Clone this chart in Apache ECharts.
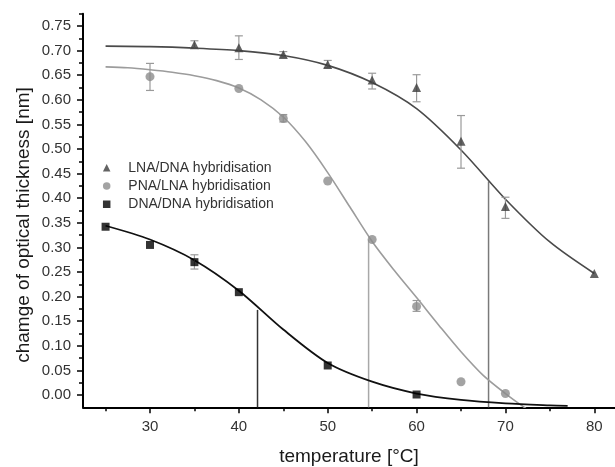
<!DOCTYPE html>
<html>
<head>
<meta charset="utf-8">
<script src="https://cdn.jsdelivr.net/npm/echarts@6/dist/echarts.min.js"></script>
<style>
  html, body { margin: 0; padding: 0; background: #fff; }
  #chart { width: 615px; height: 467px; }
</style>
</head>
<body>
<div id="chart"></div>
<script>
// measured points [temperature, thickness]
const lnaPoints = [[35, 0.712], [40, 0.706], [45, 0.692], [50, 0.672], [55, 0.640], [60, 0.625], [65, 0.516], [70, 0.383], [80, 0.247]]
const pnaPoints = [[30, 0.647], [40, 0.623], [45, 0.562], [50, 0.435], [55, 0.316], [60, 0.180], [65, 0.027], [70, 0.003]]
const dnaPoints = [[25, 0.342], [30, 0.305], [35, 0.270], [40, 0.209], [50, 0.060], [60, 0.001]]

// error bars [temperature, low, high]
const lnaErrors = [[35, 0.705, 0.720], [40, 0.682, 0.730], [45, 0.687, 0.698], [50, 0.665, 0.680], [55, 0.622, 0.654], [60, 0.596, 0.651], [65, 0.461, 0.568], [70, 0.359, 0.402]]
const pnaErrors = [[30, 0.619, 0.674], [45, 0.555, 0.570], [60, 0.170, 0.192]]
const dnaErrors = [[35, 0.256, 0.285]]

// fitted curves
const lnaFit = [[25, 0.709], [30, 0.708], [35, 0.705], [40, 0.700], [45, 0.690], [50, 0.670], [55, 0.635], [60, 0.582], [65, 0.498], [70, 0.398], [75, 0.311], [80, 0.247]]
const pnaFit = [[25, 0.667], [27.5, 0.665], [30, 0.661], [32.5, 0.656], [35, 0.649], [37.5, 0.639], [40, 0.624], [42.5, 0.600], [45, 0.565], [47.5, 0.515], [50, 0.452], [52.5, 0.382], [55, 0.312], [57.5, 0.253], [60, 0.198], [62.5, 0.142], [65, 0.088], [67.5, 0.040], [70, 0.003], [72.5, -0.030]]
const dnaFit = [[25, 0.344], [30, 0.316], [35, 0.274], [40, 0.212], [45, 0.133], [50, 0.065], [55, 0.027], [60, 0.003], [65, -0.010], [70, -0.017], [75, -0.021], [77, -0.022]]

// melting temperatures [Tm, curve height]
const lnaTm = [68.1, 0.434]
const pnaTm = [54.6, 0.316]
const dnaTm = [42.1, 0.173]

// axis ranges and ticks
const xMin = 22.46
const xMax = 82.33
const yMin = -0.025
const yMax = 0.775
const xMajorTicks = [30, 40, 50, 60, 70, 80]
const xFirstTicks = [25, 30]
const yMajorTicks = [0.00, 0.05, 0.10, 0.15, 0.20, 0.25, 0.30, 0.35, 0.40, 0.45, 0.50, 0.55, 0.60, 0.65, 0.70, 0.75]
const yLastTicks = [0.75, 0.775]

const font = 'Liberation Sans, Arial, sans-serif'
const tickLine = { color: '#000', width: 1.5 }

function errorBarItem(params, api) {
  const x = api.value(0)
  const lo = api.coord([x, api.value(1)])
  const hi = api.coord([x, api.value(2)])
  const half = 4
  const style = { stroke: '#9a9a9a', lineWidth: 1.2 }
  return {
    type: 'group',
    children: [
      { type: 'line', shape: { x1: lo[0], y1: lo[1], x2: hi[0], y2: hi[1] }, style: style },
      { type: 'line', shape: { x1: lo[0] - half, y1: lo[1], x2: lo[0] + half, y2: lo[1] }, style: style },
      { type: 'line', shape: { x1: hi[0] - half, y1: hi[1], x2: hi[0] + half, y2: hi[1] }, style: style },
    ],
  }
}

function errorSeries(data) {
  return { type: 'custom', renderItem: errorBarItem, data: data, encode: { x: 0, y: [1, 2] }, z: 3, silent: true }
}

function fitSeries(data, color, width) {
  return { type: 'line', data: data, smooth: 0.3, showSymbol: false, lineStyle: { color: color, width: width }, z: 2, silent: true }
}

function tmSeries(tm, color) {
  return { type: 'line', data: [[tm[0], yMin], [tm[0], tm[1]]], showSymbol: false, lineStyle: { color: color, width: 1.5 }, z: 1, silent: true }
}

function hiddenAxis(gridIndex) {
  return {
    type: 'value',
    gridIndex: gridIndex,
    min: 0,
    max: 1,
    axisLine: { show: false, onZero: false },
    axisTick: { show: false },
    axisLabel: { show: false },
    splitLine: { show: false },
  }
}

// tick-only axes, each in its own grid so that min is always on a tick
function tickAxis(gridIndex, ticks, pos, len, labels, minor) {
  return {
    type: 'value',
    gridIndex: gridIndex,
    position: pos,
    min: ticks[0],
    max: ticks[ticks.length - 1],
    interval: ticks[1] - ticks[0],
    axisLine: { show: false, onZero: false },
    axisTick: { show: true, length: len, lineStyle: tickLine },
    minorTick: { show: minor, splitNumber: 2, length: 4, lineStyle: tickLine },
    axisLabel: labels
      ? { show: true, margin: 12, fontSize: 15, color: '#333', fontFamily: font, formatter: labels }
      : { show: false },
    splitLine: { show: false },
    minorSplitLine: { show: false },
  }
}

function makeGrid(left, right, top, bottom) {
  return { left: left, right: right, top: top, bottom: bottom, containLabel: false, outerBoundsMode: 'none' }
}

const chart = echarts.init(document.getElementById('chart'))
chart.setOption({
  animation: false,
  grid: [
    makeGrid(83, 0, 13.7, 59.7),
    makeGrid(150, 20.7, 13.7, 59.7),
    makeGrid(105.57, 465, 13.7, 59.7),
    makeGrid(83, 0, 26, 72),
    makeGrid(83, 0, 13.7, 441),
  ],
  legend: {
    orient: 'vertical',
    left: 102.95,
    top: 158.5,
    padding: 0,
    itemGap: 0,
    itemWidth: 7.5,
    itemHeight: 7.5,
    textStyle: { fontSize: 14, color: '#333', fontFamily: font, lineHeight: 18.3, padding: [0, 0, 0, 12.85] },
    data: [
      { name: 'LNA/DNA hybridisation', icon: 'triangle', itemStyle: { color: '#3c3c3c' } },
      { name: 'PNA/LNA hybridisation', icon: 'circle', itemStyle: { color: '#8c8c8c' } },
      { name: 'DNA/DNA hybridisation', icon: 'rect', itemStyle: { color: '#000' } },
    ],
  },
  xAxis: [
    {
      type: 'value',
      gridIndex: 0,
      min: xMin,
      max: xMax,
      position: 'bottom',
      name: 'temperature [°C]',
      nameLocation: 'middle',
      nameGap: 40,
      nameTextStyle: { fontSize: 19, color: '#1a1a1a', fontFamily: font },
      axisLine: { show: true, onZero: false, lineStyle: { color: '#000', width: 2 } },
      axisTick: { show: false },
      axisLabel: { show: false },
      splitLine: { show: false },
    },
    tickAxis(1, xMajorTicks, 'bottom', 6, (v) => String(v), true),
    tickAxis(2, xFirstTicks, 'bottom', 4, null, false),
    hiddenAxis(3),
    hiddenAxis(4),
  ],
  yAxis: [
    {
      type: 'value',
      gridIndex: 0,
      min: yMin,
      max: yMax,
      position: 'left',
      name: 'chamge of optical thickness [nm]',
      nameLocation: 'middle',
      nameGap: 50,
      nameTextStyle: { fontSize: 19, color: '#1a1a1a', fontFamily: font, padding: [0, 29, 0, 0] },
      axisLine: { show: true, onZero: false, lineStyle: { color: '#000', width: 2 } },
      axisTick: { show: false },
      axisLabel: { show: false },
      splitLine: { show: false },
    },
    hiddenAxis(1),
    hiddenAxis(2),
    tickAxis(3, yMajorTicks, 'left', 6, (v) => v.toFixed(2), true),
    tickAxis(4, yLastTicks, 'left', 4, null, false),
  ],
  series: [
    fitSeries(lnaFit, '#4a4a4a', 1.6),
    fitSeries(pnaFit, '#9c9c9c', 1.6),
    fitSeries(dnaFit, '#111', 1.8),
    tmSeries(lnaTm, '#7a7a7a'),
    tmSeries(pnaTm, '#a8a8a8'),
    tmSeries(dnaTm, '#333'),
    errorSeries(lnaErrors),
    errorSeries(pnaErrors),
    errorSeries(dnaErrors),
    {
      name: 'LNA/DNA hybridisation',
      type: 'scatter',
      symbol: 'triangle',
      symbolSize: 9,
      itemStyle: { color: '#3c3c3c' },
      data: lnaPoints,
      z: 4,
    },
    {
      name: 'PNA/LNA hybridisation',
      type: 'scatter',
      symbol: 'circle',
      symbolSize: 9,
      itemStyle: { color: '#8c8c8c' },
      data: pnaPoints,
      z: 4,
    },
    {
      name: 'DNA/DNA hybridisation',
      type: 'scatter',
      symbol: 'rect',
      symbolSize: 8,
      itemStyle: { color: '#000' },
      data: dnaPoints,
      z: 4,
    },
  ],
})
</script>
</body>
</html>
